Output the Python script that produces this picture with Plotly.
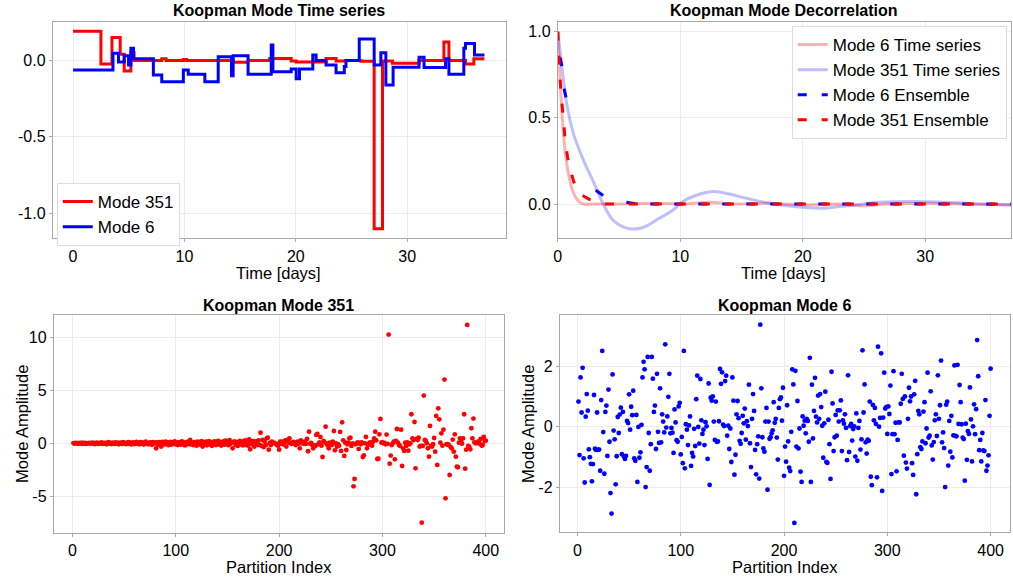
import plotly.graph_objects as go

W, H = 1013, 579
FONT = "Liberation Sans, Arial, Helvetica, sans-serif"
RED = "#ff0000"
BLUE = "#0000ff"

# ---------------- Koopman mode time series (piecewise constant) ----------------
mode351_t = [0, 2.50, 3.49, 4.23, 4.59, 5.19, 5.48, 7.96, 8.35, 9.90, 10.19, 14.37,
             15.71, 17.65, 19.58, 20.03, 22.71, 23.61, 24.50, 25.84, 27.03, 27.78,
             28.67, 31.06, 33.29, 33.74, 35.23, 35.98, 36.93]
mode351_v = [0.19, -0.024, 0.15, 0.04, -0.07, 0.05, 0.0, 0.01, 0.0, 0.006, 0.0, -0.012,
             0.0, 0.012, -0.004, -0.01, 0.012, -0.004, 0.0, -0.006, -1.10, -0.004,
             -0.018, 0.0, 0.12, 0.0, -0.024, 0.01, 0.01]

mode6_t = [0, 3.58, 4.08, 4.59, 4.98, 5.19, 5.42, 7.21, 7.96, 9.90, 10.34, 11.83, 13.03,
           14.22, 14.37, 15.71, 17.79, 17.94, 19.58, 20.03, 20.33, 21.52, 21.82, 22.71,
           23.61, 24.35, 24.50, 25.69, 27.03, 27.63, 28.08, 28.73, 31.06, 31.51, 33.44,
           33.74, 35.08, 35.23, 36.04, 36.93]
mode6_v = [-0.063, 0.046, -0.01, 0.03, -0.03, 0.08, 0.01, -0.096, -0.14, -0.063, -0.09,
           -0.14, 0.024, -0.10, 0.03, -0.09, 0.10, -0.074, -0.057, -0.12, -0.057, 0.035,
           0.0, -0.03, -0.08, -0.04, 0.0, 0.14, -0.03, 0.05, -0.16, -0.044, 0.02, -0.046,
           0.01, -0.09, 0.08, 0.11, 0.035, 0.035]

# ---------------- decorrelation curves ----------------
ts6_lag = [0, 0.2, 0.45, 0.7, 1.0, 1.3, 1.7, 2.1, 3, 5, 8, 10, 12.5, 14, 17, 20, 23,
           25, 27, 30, 33, 37]
ts6_corr = [1.0, 0.70, 0.42, 0.25, 0.13, 0.06, 0.015, 0.0, 0.0, 0.0, 0.005, 0.0, 0.01,
            0.0, 0.005, -0.005, 0.0, -0.01, 0.0, 0.005, 0.0, -0.005]

ts351_lag = [0, 0.33, 0.73, 1.27, 2.09, 2.9, 3.71, 4.5, 5.6, 6.3, 7.0, 8.05, 9.4, 10.2,
             11.6, 12.66, 13.7, 15.4, 17.3, 18.9, 21.6, 22.95, 24.3, 25.7, 28.4, 31.1,
             33.8, 37]
ts351_corr = [1.0, 0.80, 0.58, 0.41, 0.255, 0.13, 0.0, -0.093, -0.14, -0.145, -0.135,
              -0.093, -0.035, 0.014, 0.058, 0.072, 0.062, 0.033, 0.004, -0.012, -0.025,
              -0.015, -0.006, 0.008, 0.014, 0.012, 0.002, -0.006]

ens6_lag = [0.19, 0.33, None, 0.51, 0.73, None, 3.1, 3.5, 3.9, None, 5.6, 6.5, 10, 15,
            20, 25, 30, 37]
ens6_corr = [0.85, 0.80, None, 0.67, 0.60, None, 0.08, 0.06, 0.04, None, 0.01, 0.0, 0.0,
             0.0, 0.0, 0.0, 0.0, 0.0]

ens351_lag = [0, 0.15, 0.3, 0.45, 0.6, 0.8, 1.0, 1.3, 1.6, 2.0, 2.5, 3.0, 3.7, 5, 10, 15,
              20, 25, 30, 37]
ens351_corr = [1.0, 0.76, 0.62, 0.47, 0.37, 0.27, 0.2, 0.13, 0.08, 0.05, 0.03, 0.015,
               0.0, 0.0, 0.0, 0.0, 0.0, 0.0, 0.0, 0.0]

# ---------------- mode amplitudes over partitions ----------------
amp351 = [
    0.02, -0.03, 0.05, 0.01, -0.04, 0.03, 0.00, -0.02, 0.06, -0.05,
    0.01, 0.04, -0.06, 0.02, -0.01, 0.05, -0.03, 0.00, 0.07, -0.04,
    0.03, -0.08, 0.02, 0.06, -0.05, 0.01, -0.02, 0.08, -0.06, 0.03,
    -0.01, 0.05, -0.09, 0.04, 0.10, -0.03, 0.02, -0.07, 0.06, 0.00,
    -0.05, 0.09, -0.02, 0.04, -0.10, 0.07, 0.01, -0.06, 0.11, -0.03,
    0.05, -0.08, 0.02, 0.12, -0.04, 0.06, -0.11, 0.03, 0.08, -0.07,
    0.01, 0.13, -0.05, 0.04, -0.09, 0.10, -0.02, 0.07, -0.12, 0.05,
    0.15, -0.06, 0.02, -0.10, 0.09, 0.04, -0.14, 0.11, -0.03, 0.06,
    -0.47, 0.08, -0.15, 0.12, -0.05, -0.30, 0.14, 0.03, -0.10, 0.16,
    -0.07, 0.10, -0.18, 0.05, 0.13, -0.12, 0.08, -0.04, 0.17, -0.09,
    0.06, -0.16, 0.11, 0.02, -0.13, 0.18, -0.06, 0.09, -0.20, 0.04,
    0.14, -0.08, 0.19, 0.31, -0.11, 0.07, -0.17, 0.12, 0.01, -0.22,
    0.16, -0.05, 0.10, -0.14, 0.21, -0.30, 0.08, -0.09, 0.15, -0.19,
    0.04, 0.20, -0.12, 0.09, -0.24, 0.13, -0.03, 0.18, -0.16, 0.06,
    0.22, -0.10, 0.11, -0.21, 0.03, 0.17, -0.13, 0.25, -0.07, 0.10,
    -0.18, 0.30, -0.05, 0.14, -0.47, 0.08, 0.19, -0.15, 0.12, -0.25,
    0.05, 0.23, -0.11, 0.16, -0.20, 0.09, 0.27, -0.14, 0.02, -0.22,
    0.38, -0.57, 0.13, -0.09, 0.21, -0.30, 0.07, 0.18, -0.16, 0.28,
    -0.12, 1.00, -0.25, 0.32, -0.35, 0.15, -0.18,
    0.47, 0.53, -0.60, 0.03, -0.16, 0.16, 0.03, 0.06, 0.00, -0.06,
    -0.16, -0.22, -0.60, 0.16, -0.03, 0.16, -0.09, 0.09, 0.28, -0.31,
    0.31, 0.06, 0.47, 0.06, -0.06, 0.00, 0.13, 0.06, -0.16, 0.06,
    0.16, -0.03, -0.47, 0.28, 0.09, -0.03, 0.06, 0.16, -0.06, 0.41,
    -0.75, 1.10, -0.03, 0.03, -0.16, -0.47, -0.19, -0.25, 0.79, 0.88,
    -0.09, 0.09, 0.60, -0.22, -1.29, 0.22, 0.09, 1.57, 0.00, -0.19,
    -0.47, 0.06, -0.03, -0.16, 0.16, 1.16, -0.66, 0.00, -0.31, -0.09,
    -0.22, 1.07, -0.72, 1.98, 0.28, -1.19, 0.06, -0.63, -0.09, 0.06,
    0.47, 0.53, -0.25, 0.00, -4.06, -3.36, -0.09, -0.03, 0.09, -0.53,
    0.03, -0.09, 0.09, -1.29, -1.13, 0.00, 0.60, -0.47, -0.16, 0.00,
    0.09, -0.06, -0.22, 0.16, 0.47, 1.10, 0.28, -1.48,
    -1.45, 0.85, 2.30, 0.06, 0.09, 0.00, 0.03, -0.09, 0.82, -0.06,
    10.25, -1.92, -1.16, -0.16, 0.00, 0.16, -1.51, 0.22, 1.35, 0.06,
    -0.16, -0.25, 1.29, -2.14, -0.47, -0.72, 0.06, -0.25, 0.09, -0.69,
    -0.09, 0.00, 2.74, 0.47, 0.31, 2.01, -2.36, 0.41, 0.31, 0.53,
    -0.31, -0.25, -7.48, -0.25, 4.50, 0.31, 0.22, 0.00, -0.47, -1.26,
    1.64, -0.25, -0.31, -0.09, 0.50, -0.79, 2.58, -2.04, 3.30, 2.26,
    0.06, 0.94, -0.22, 1.29, 6.01, -5.19, -0.09, -0.09, -0.16, -2.99,
    -0.35, -0.47, 0.35, -0.79, 0.85, -1.26, -2.20, -2.26, 0.06, 0.47,
    0.16, -0.03, 0.47, 2.74, -2.39, -0.60, 11.16, -0.25, -0.35, -0.57,
    1.42, 0.47, 2.33, 0.09, 0.00, 0.06, 0.03, 0.19, -0.03, 0.41,
    -0.22, -0.16, 0.60, 0.22, 0.25,
]

amp6 = [
    0.83, -0.94, 1.63, 0.47, 1.95, -1.05, -1.85, 0.33, 1.08, 0.53,
    -0.75, -1.01, -1.23, -1.81, -1.24, 1.05, -0.73, -0.77, 0.47, -0.76,
    -0.76, -1.46, 0.88, 2.51, -0.18, -1.56, 0.49, 0.70, -0.97, 1.23,
    -0.50, -2.20, -2.88, 1.73, -0.13, -0.42, -1.91, -0.98, 0.32, -0.21,
    0.40, 0.63, -0.91, 0.49, -0.99, -1.07, -0.97, 0.19, 0.12, 1.07,
    -0.10, 0.66, 0.38, 1.19, -1.05, -1.13, 0.39, -1.83, -0.01, -1.03,
    -0.85, 0.06, 1.63, 2.15, 1.90, -2.00, -1.34, 2.31, -0.21, -1.46,
    -0.58, 2.31, 1.59, 0.49, 0.70, -0.74, 1.75, -0.17, -0.54, 1.27,
    -0.52, 0.41, 0.17, -0.19, 2.73, -0.03, 0.34, 0.99, 1.75, -0.22,
    -0.04, -0.20, -0.87, 0.57, 0.14, -0.45, -0.50, 0.67, 0.79, -0.92,
    -0.34,
    -1.21, 2.51, -1.38, 0.08, -0.10, -0.61, 0.04, 0.34, -1.30, -0.87,
    -0.99, -0.07, -0.64, 0.91, 1.69, -0.01, -0.56, 1.58, 0.21, -0.24,
    -0.10, -0.61, 0.15, 0.01, -1.07, 1.43, -1.93, 0.96, 0.86, 1.00,
    0.17, -0.44, 0.83, -0.50, -0.49, 0.18, 1.91, 1.42, 1.80, 0.07,
    0.02, 1.51, 1.69, -0.30, 0.03, -0.74, -0.06, -1.17, 1.63, 0.86,
    -1.59, -0.93, 0.41, 0.85, 0.28, -0.47, -0.57, -0.21, 0.36, 0.11,
    0.60, -0.43, 0.18, 0.02, 1.39, -0.55, -1.34, 0.26, 1.08, 0.52,
    -0.77, -1.58, -0.58, -0.32, -1.72, 3.38, 1.27, -0.35, -0.72, -0.83,
    0.17, 0.62, -2.09, 0.17, -0.40, -0.35, -0.22, -0.12, 0.81, 0.13,
    0.26, -0.36, -1.09, 0.62, 0.91, 0.97, 0.20, 1.29,
    -1.63, -0.66, -1.16, 0.71, -0.49, -1.36, -1.47, -0.17, 1.90, 1.40,
    -3.19, 1.85, -0.66, 0.85, -0.72, -0.06, -1.49, -1.83, 0.34, 0.03,
    0.20, -0.22, 0.26, 0.19, -0.50, 2.28, -1.83, 1.39, -0.39, 0.52,
    1.62, 0.33, 0.14, 1.03, 0.26, 1.08, 0.65, 0.03, -1.03, 0.11,
    1.16, -1.17, -1.20, 0.23, -0.58, -1.73, 1.82, 0.77, -0.81, -0.35,
    0.39, -0.30, 0.54, 0.17, 0.54, 0.87, -0.81, 0.21, 0.10, 0.41,
    -0.04, -1.11, 1.70, -0.84, 0.02, 0.09, -0.46, -0.08, 0.01, -0.99,
    0.44, -1.13, -0.04, 0.19, -0.76, -0.42, 2.53, 0.47, 1.40, -0.52,
    -0.89, -0.43, -0.47, 0.83, -1.66, -1.94, 0.72, 0.21, 0.62, 0.09,
    -1.68, 2.65, 0.00, 0.29, 2.43, -2.13, 0.30, 1.79, 0.60, 0.65,
    -0.24, 0.67, 0.42, 1.36,
    -1.57, -0.25, 1.84, -0.25, 0.13, -1.48, -0.44, 0.14, 0.14, 0.76,
    1.75, 0.92, -0.96, 1.00, -1.19, -1.39, 0.26, 1.29, 0.84, 1.00,
    -1.21, -1.60, 1.07, 1.52, -2.24, -0.91, 0.52, 0.41, -0.68, -0.74,
    -0.49, 0.50, 0.81, -0.55, -0.06, 1.79, -0.36, -0.30, 1.17, -0.62,
    -1.09, -0.51, 0.21, 0.41, -0.31, 1.70, 0.26, 0.71, 2.19, -0.52,
    -0.19, -0.71, -2.00, 0.73, 0.83, -1.29, 0.19, -0.83, 0.36, -1.02,
    -0.29, 2.03, -0.31, -0.32, 2.05, 0.09, 1.38, 0.81, 0.08, -0.36,
    -0.41, -1.79, 0.10, -1.10, -0.15, -0.24, 1.30, 0.24, -1.15, 0.01,
    0.74, -0.25, 0.58, 2.87, 1.67, -0.78, -0.44, -1.15, -0.21, -0.79,
    -0.81, 0.88, -1.46, -1.29, -0.95, 0.36, 1.92,
]

partition351 = list(range(1, len(amp351) + 1))
partition6 = list(range(1, len(amp6) + 1))


def px_x(x):
    return x / W


def px_y(y):
    return 1 - y / H


fig = go.Figure()

# panel 1: time series
fig.add_trace(go.Scatter(x=mode351_t, y=mode351_v, mode="lines", line_shape="hv",
                         line=dict(color=RED, width=3), name="Mode 351",
                         xaxis="x", yaxis="y", legend="legend"))
fig.add_trace(go.Scatter(x=mode6_t, y=mode6_v, mode="lines", line_shape="hv",
                         line=dict(color=BLUE, width=3), name="Mode 6",
                         xaxis="x", yaxis="y", legend="legend"))

# panel 2: decorrelation
fig.add_trace(go.Scatter(x=ts6_lag, y=ts6_corr, mode="lines", line_shape="spline",
                         line=dict(color="rgba(255,0,0,0.3)", width=3),
                         name="Mode 6 Time series", xaxis="x2", yaxis="y2", legend="legend2"))
fig.add_trace(go.Scatter(x=ts351_lag, y=ts351_corr, mode="lines", line_shape="spline",
                         line=dict(color="rgba(0,0,255,0.25)", width=3),
                         name="Mode 351 Time series", xaxis="x2", yaxis="y2", legend="legend2"))
fig.add_trace(go.Scatter(x=ens6_lag, y=ens6_corr, mode="lines", connectgaps=False,
                         line=dict(color=BLUE, width=3, dash="9px,15px"),
                         name="Mode 6 Ensemble", xaxis="x2", yaxis="y2", legend="legend2"))
fig.add_trace(go.Scatter(x=ens351_lag, y=ens351_corr, mode="lines",
                         line=dict(color=RED, width=3, dash="9px,15px"),
                         name="Mode 351 Ensemble", xaxis="x2", yaxis="y2", legend="legend2"))

# panels 3 and 4: amplitudes
fig.add_trace(go.Scatter(x=partition351, y=amp351, mode="markers",
                         marker=dict(color=RED, size=4.8, line=dict(width=0)),
                         showlegend=False, xaxis="x3", yaxis="y3"))
fig.add_trace(go.Scatter(x=partition6, y=amp6, mode="markers",
                         marker=dict(color=BLUE, size=4.8, line=dict(width=0)),
                         showlegend=False, xaxis="x4", yaxis="y4"))

axis_common = dict(showline=True, mirror=True, linecolor="#a8a8a8", linewidth=1,
                   showgrid=True, gridcolor="#ececec", gridwidth=1, zeroline=False,
                   ticks="outside", ticklen=3, tickcolor="#a8a8a8",
                   tickfont=dict(family=FONT, size=16, color="black"))

boxes = {
    "1": (49, 503.7, 21.7, 238.3),
    "2": (556, 1011, 21.7, 238.3),
    "3": (50, 502.3, 315, 532.7),
    "4": (558, 1010, 315, 532.3),
}

layout = dict(
    width=W, height=H, margin=dict(l=0, r=0, t=0, b=0),
    paper_bgcolor="white", plot_bgcolor="white",
    font=dict(family=FONT, size=16, color="black"),
)


def dom(key):
    l, r, t, b = boxes[key]
    return [px_x(l), px_x(r)], [px_y(b), px_y(t)]


xd, yd = dom("1")
layout["xaxis"] = dict(axis_common, domain=xd, anchor="y", range=[-1.82, 38.84],
                       tickvals=[0, 10, 20, 30])
layout["yaxis"] = dict(axis_common, domain=yd, anchor="x", range=[-1.163, 0.253],
                       tickvals=[0.0, -0.5, -1.0], ticktext=["0.0", "-0.5", "-1.0"])
xd, yd = dom("2")
layout["xaxis2"] = dict(axis_common, domain=xd, anchor="y2", range=[0, 37.0],
                        tickvals=[0, 10, 20, 30])
layout["yaxis2"] = dict(axis_common, domain=yd, anchor="x2", range=[-0.199, 1.058],
                        tickvals=[0.0, 0.5, 1.0], ticktext=["0.0", "0.5", "1.0"])
xd, yd = dom("3")
layout["xaxis3"] = dict(axis_common, domain=xd, anchor="y3", range=[-18.0, 417.9],
                        tickvals=[0, 100, 200, 300, 400])
layout["yaxis3"] = dict(axis_common, domain=yd, anchor="x3", range=[-8.43, 12.1],
                        tickvals=[-5, 0, 5, 10], ticktext=["-5", "0", "5", "10"])
xd, yd = dom("4")
layout["xaxis4"] = dict(axis_common, domain=xd, anchor="y4", range=[-17.1, 418.8],
                        tickvals=[0, 100, 200, 300, 400])
layout["yaxis4"] = dict(axis_common, domain=yd, anchor="x4", range=[-3.50, 3.70],
                        tickvals=[-2, 0, 2], ticktext=["-2", "0", "2"])

legend_style = dict(bgcolor="white", bordercolor="#dcdcdc", borderwidth=1,
                    font=dict(family=FONT, size=17, color="black"),
                    xref="paper", yref="paper", tracegroupgap=0, itemwidth=30)
layout["legend"] = dict(legend_style, x=px_x(53), y=px_y(183), xanchor="left", yanchor="top")
layout["legend2"] = dict(legend_style, x=px_x(1006.7), y=px_y(26), xanchor="right", yanchor="top")

annotations = []


def text(x, y, s, size=16, bold=False, angle=0):
    annotations.append(dict(
        x=px_x(x), y=px_y(y), xref="paper", yref="paper", text=f"<b>{s}</b>" if bold else s,
        showarrow=False, xanchor="center", yanchor="middle", textangle=angle,
        font=dict(family=FONT, size=size, color="black")))


text(276, 11, "Koopman Mode Time series", 16, True)
text(783, 11, "Koopman Mode Decorrelation", 16, True)
text(276, 305, "Koopman Mode 351", 16, True)
text(784, 305, "Koopman Mode 6", 16, True)
text(276, 273, "Time [days]", 16.5)
text(783, 273, "Time [days]", 16.5)
text(276, 567, "Partition Index", 16.5)
text(784, 567, "Partition Index", 16.5)
text(18, 424, "Mode Amplitude", 16.5, angle=-90)
text(526, 424, "Mode Amplitude", 16.5, angle=-90)

layout["annotations"] = annotations
fig.update_layout(**layout)

fig.write_html("out.html")
